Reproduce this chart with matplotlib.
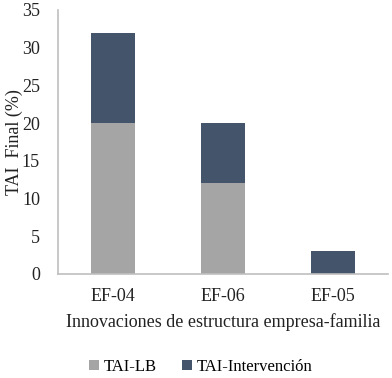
import numpy as np
import matplotlib.pyplot as plt

# Datos
categorias = ['EF-04', 'EF-06', 'EF-05']
tai_lb = [20, 12, 0]
tai_intervencion = [12, 8, 3]

plt.rcParams['font.family'] = ['Liberation Serif', 'DejaVu Serif']
fuente = {'family': ['Liberation Serif', 'DejaVu Serif'], 'size': 13}

fig = plt.figure(figsize=(3.92, 3.78), dpi=100)
ax = fig.add_axes([58 / 392, 1 - 274 / 378, 330 / 392, 264 / 378])

x = np.arange(len(categorias))
ax.bar(x, tai_lb, width=0.4, color='#A5A5A5', label='TAI-LB')
ax.bar(x, tai_intervencion, width=0.4, bottom=tai_lb, color='#44546A',
       label='TAI-Intervención')

ax.set_xlim(-0.5, 2.5)
ax.set_ylim(0, 35)
ax.set_yticks(range(0, 36, 5))
ax.set_yticklabels([str(v) for v in range(0, 36, 5)], fontdict=fuente)
ax.set_xticks(x)
ax.set_xticklabels(categorias, fontdict=fuente)
ax.tick_params(length=0, colors='#222222')
ax.tick_params(axis='y', pad=13)
ax.tick_params(axis='x', pad=10)

for s in ['top', 'right']:
    ax.spines[s].set_visible(False)
for s in ['left', 'bottom']:
    ax.spines[s].set_color('#BFBFBF')
    ax.spines[s].set_linewidth(1.2)

ax.set_ylabel('TAI  Final (%)', fontdict=fuente, color='#222222')
ax.yaxis.set_label_coords(-0.105, 0.5)
ax.set_xlabel('Innovaciones de estructura empresa-familia', fontdict=fuente,
              color='#222222', labelpad=6)

fig.legend(loc='center', bbox_to_anchor=(201 / 392, 1 - 367 / 378), ncol=2,
           frameon=False, prop={'family': ['Liberation Serif'], 'size': 12},
           handlelength=0.6, handleheight=0.6, handletextpad=0.3,
           columnspacing=1.5)

fig.savefig('out.png', dpi=100)
